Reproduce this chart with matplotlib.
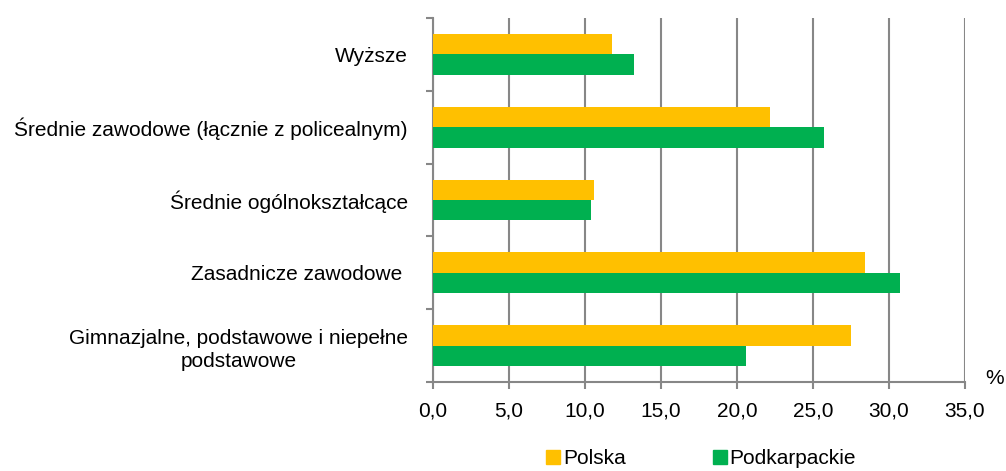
import numpy as np
import matplotlib.pyplot as plt
from matplotlib.lines import Line2D

plt.rcParams['font.family'] = ['Liberation Sans', 'DejaVu Sans']

categories = ['Wyższe',
              'Średnie zawodowe (łącznie z policealnym)',
              'Średnie ogólnokształcące',
              'Zasadnicze zawodowe ',
              'Gimnazjalne, podstawowe i niepełne\npodstawowe']
polska = [11.8, 22.2, 10.6, 28.4, 27.5]
podkarpackie = [13.2, 25.7, 10.4, 30.7, 20.6]
xticks = [0, 5, 10, 15, 20, 25, 30, 35]

yellow = '#FFC000'
green = '#00B050'
grey = '#878787'
fs = 15

fig = plt.figure(figsize=(10.06, 4.71), dpi=100)
ax = fig.add_axes([0.4304, 0.189, 0.5288, 0.773])

y = np.arange(len(categories))
h = 0.28
ax.barh(y - h / 2, polska, height=h, color=yellow, zorder=3)
ax.barh(y + h / 2, podkarpackie, height=h, color=green, zorder=3)

ax.set_ylim(len(categories) - 0.5, -0.5)
ax.set_xlim(0, 35)
ax.set_xticks(xticks)
ax.set_xticklabels([f'{v:.1f}'.replace('.', ',') for v in xticks], fontsize=fs)
ax.set_yticks(y)
ax.set_yticklabels(categories, fontsize=fs, multialignment='center', linespacing=1.3)
ax.set_yticks(np.arange(-0.5, len(categories)), minor=True)
ax.tick_params(axis='y', which='major', length=0, pad=18)
ax.tick_params(axis='y', which='minor', length=5, color=grey, width=1.5)
ax.tick_params(axis='x', length=5, color=grey, width=1.5, pad=9)

ax.grid(axis='x', color=grey, linewidth=1.5, zorder=0)
for s in ['top', 'right']:
    ax.spines[s].set_visible(False)
for s in ['left', 'bottom']:
    ax.spines[s].set_color(grey)
    ax.spines[s].set_linewidth(1.5)

fig.text(0.998, 0.176, '%', fontsize=fs, ha='right', va='bottom')

handles = [Line2D([], [], marker='s', linestyle='', markersize=10, color=yellow),
           Line2D([], [], marker='s', linestyle='', markersize=10, color=green)]
fig.legend(handles, ['Polska', 'Podkarpackie'], loc='lower center',
           bbox_to_anchor=(0.697, -0.033), ncol=2, frameon=False, fontsize=fs,
           handlelength=0.7, handletextpad=0.1, columnspacing=4.2)

fig.savefig('out.png', dpi=100)
